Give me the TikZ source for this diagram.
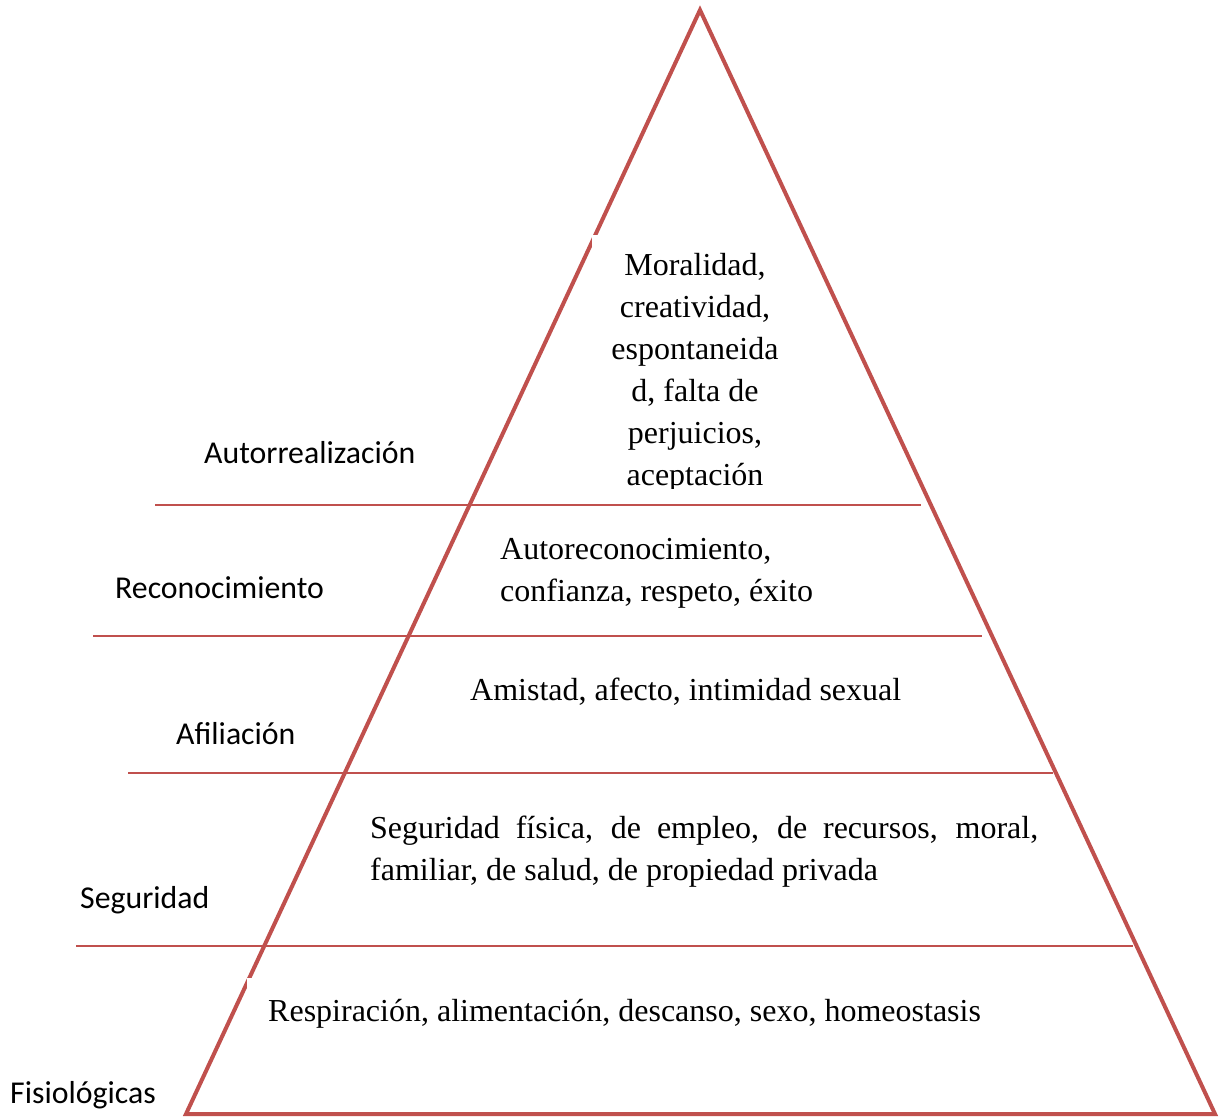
\documentclass[tikz,border=0pt]{standalone}
\usepackage{fontspec}
\setmainfont{Liberation Serif}
\newfontfamily\calibri{Carlito}
\definecolor{pyr}{HTML}{C0504D}
\begin{document}
\begin{tikzpicture}[x=1pt,y=-1pt,
 edge/.style={draw=pyr,line width=4pt,line join=miter},
 sepline/.style={draw=pyr,line width=2pt},
 body/.style={inner sep=0pt,font=\fontsize{32}{42}\selectfont},
 lab/.style={inner sep=0pt,anchor=base west,font=\calibri\fontsize{31.8}{38}\selectfont}]
\useasboundingbox (0,0) rectangle (1221,1119);
\fill[white] (0,0) rectangle (1221,1119);
% pyramid
\coordinate (apex) at (700,10);
\coordinate (bl) at (186,1114);
\coordinate (br) at (1215,1114);
\draw[edge] (apex) -- (bl) -- (br) -- cycle;
% level separators
\coordinate (s1a) at (155,505);  \coordinate (s1b) at (921,505);
\coordinate (s2a) at (93,636);   \coordinate (s2b) at (982,636);
\coordinate (s3a) at (128,773);  \coordinate (s3b) at (1053,773);
\coordinate (s4a) at (76,946);   \coordinate (s4b) at (1133,946);
\draw[sepline] (s1a) -- (s1b);
\draw[sepline] (s2a) -- (s2b);
\draw[sepline] (s3a) -- (s3b);
\draw[sepline] (s4a) -- (s4b);
% text box notches
\fill[white] (592,235) rectangle (600,252);
\fill[white] (247,978) rectangle (254,992);
% level contents
\begin{scope}
\clip (585,230) rectangle (810,488);
\node[body,anchor=base] (t1) at (695,275) {\begin{tabular}[t]{@{}c@{}}Moralidad,\\ creatividad,\\ espontaneida\\ d, falta de\\ perjuicios,\\ aceptación\end{tabular}};
\end{scope}
\node[body,anchor=base west] (t2) at (500,559) {\begin{tabular}[t]{@{}l@{}}Autoreconocimiento,\\ confianza, respeto, éxito\end{tabular}};
\node[body,anchor=base west] (t3) at (470,700) {Amistad, afecto, intimidad sexual};
\node[body,anchor=base west] (t4) at (370,838) {\begin{tabular}[t]{@{}l@{}}\makebox[668pt][s]{Seguridad física, de empleo, de recursos, moral,}\\ familiar, de salud, de propiedad privada\end{tabular}};
\node[body,anchor=base west] (t5) at (268,1021) {Respiración, alimentación, descanso, sexo, homeostasis};
% level labels
\node[lab] (l1) at (204,463) {Autorrealización};
\node[lab] (l2) at (115,598) {Reconocimiento};
\node[lab] (l3) at (176,744) {Afiliación};
\node[lab] (l4) at (80,908) {Seguridad};
\node[lab] (l5) at (10,1103) {Fisiológicas};
\end{tikzpicture}
\end{document}
